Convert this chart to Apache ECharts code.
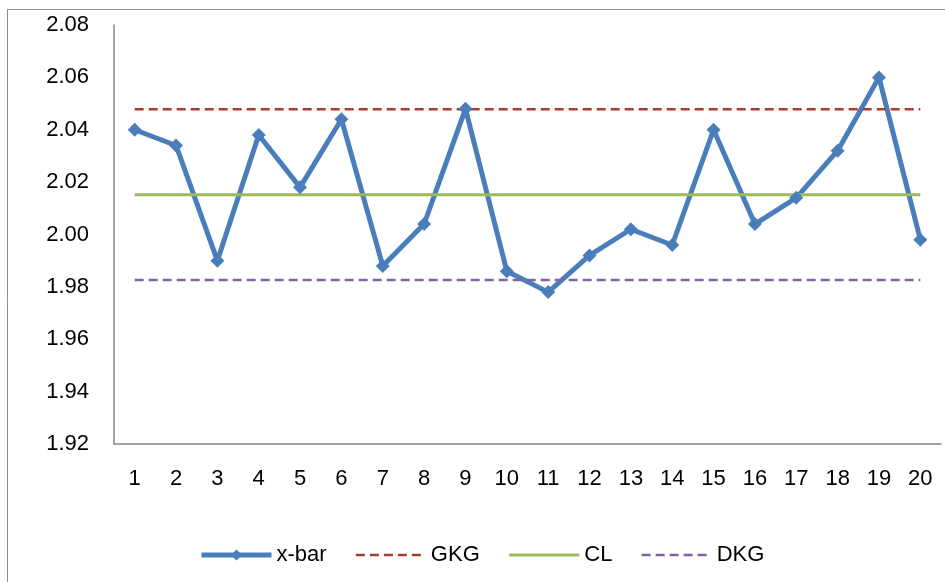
<!DOCTYPE html>
<html>
<head>
<meta charset="utf-8">
<script src="https://cdn.jsdelivr.net/npm/echarts@6/dist/echarts.min.js"></script>
<style>
  html, body { margin: 0; padding: 0; background: #fff; }
  #main { width: 945px; height: 582px; }
</style>
</head>
<body>
<div id="main"></div>
<script>
// sample numbers on the x axis
var samples = ['1','2','3','4','5','6','7','8','9','10','11','12','13','14','15','16','17','18','19','20'];
// sample means
var xbar = [2.040, 2.034, 1.990, 2.038, 2.018, 2.044, 1.988, 2.004, 2.048, 1.986,
            1.978, 1.992, 2.002, 1.996, 2.040, 2.004, 2.014, 2.032, 2.060, 1.998];
// control limits
var gkg = 2.0478;
var cl = 2.0152;
var dkg = 1.9826;

function flat(v) {
    return samples.map(function () { return v; });
}

var myChart = echarts.init(document.getElementById('main'));

var font = 'Liberation Sans';

var option = {
    animation: false,
    backgroundColor: '#fff',
    textStyle: { fontFamily: font },
    graphic: [{
        type: 'rect',
        shape: { x: 7.5, y: 9.5, width: 1000, height: 1000 },
        style: { fill: 'none', stroke: '#8c8c8c', lineWidth: 1 },
        silent: true
    }],
    grid: {
        left: 114,
        right: 4,
        top: 25,
        bottom: 138
    },
    legend: {
        left: 194,
        top: 539,
        itemWidth: 70,
        itemHeight: 14,
        itemGap: 28,
        textStyle: { fontSize: 22, color: '#000', fontFamily: font },
        data: [
            { name: 'x-bar', lineStyle: { width: 5 } },
            { name: 'GKG', itemStyle: { opacity: 0 }, lineStyle: { width: 2.5 } },
            { name: 'CL', itemStyle: { opacity: 0 }, lineStyle: { width: 3 } },
            { name: 'DKG', itemStyle: { opacity: 0 }, lineStyle: { width: 2.5 } }
        ]
    },
    xAxis: {
        type: 'category',
        boundaryGap: true,
        data: samples,
        axisLine: { lineStyle: { color: '#868686', width: 1.5 } },
        axisTick: { show: false },
        axisLabel: { color: '#000', fontSize: 22, margin: 24, interval: 0 },
        splitLine: { show: false }
    },
    yAxis: {
        type: 'value',
        min: 1.92,
        max: 2.08,
        interval: 0.02,
        axisLine: { show: true, lineStyle: { color: '#868686', width: 1.5 } },
        axisTick: { show: false },
        splitLine: { show: false },
        axisLabel: {
            color: '#000',
            fontSize: 22,
            margin: 25,
            formatter: function (v) { return v.toFixed(2); }
        }
    },
    series: [
        {
            name: 'x-bar',
            type: 'line',
            data: xbar,
            symbol: 'diamond',
            symbolSize: 14,
            lineStyle: { color: '#4A7EBB', width: 5 },
            itemStyle: { color: '#4A7EBB' }
        },
        {
            name: 'GKG',
            type: 'line',
            data: flat(gkg),
            showSymbol: false,
            symbol: 'none',
            lineStyle: { color: '#A33C37', width: 2.5, type: [9, 5] },
            itemStyle: { color: '#A33C37' }
        },
        {
            name: 'CL',
            type: 'line',
            data: flat(cl),
            showSymbol: false,
            symbol: 'none',
            lineStyle: { color: '#9BBB59', width: 3 },
            itemStyle: { color: '#9BBB59' }
        },
        {
            name: 'DKG',
            type: 'line',
            data: flat(dkg),
            showSymbol: false,
            symbol: 'none',
            lineStyle: { color: '#8064A2', width: 2.5, type: [9, 5] },
            itemStyle: { color: '#8064A2' }
        }
    ]
};

myChart.setOption(option);
</script>
</body>
</html>
